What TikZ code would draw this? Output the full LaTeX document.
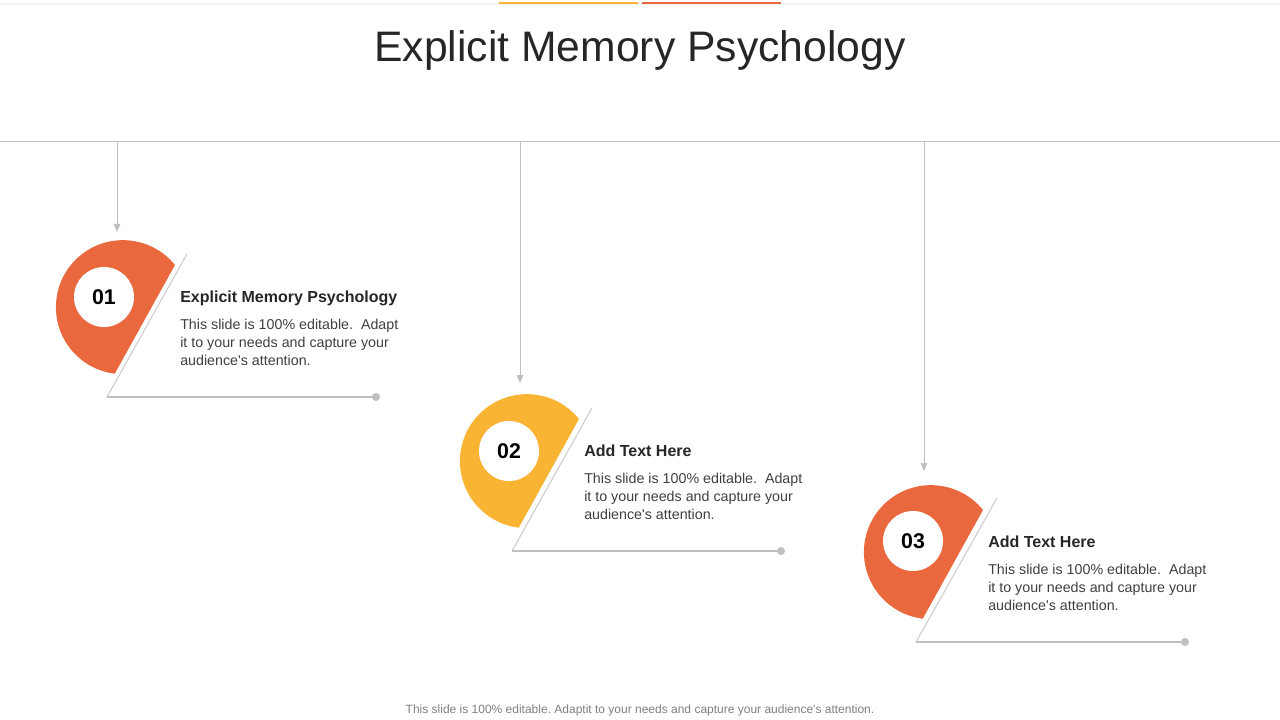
\documentclass[tikz,border=0pt]{standalone}
\usepackage{fontspec}
\setmainfont{Liberation Sans}
\usetikzlibrary{arrows.meta}

\definecolor{pinOrange}{RGB}{233,104,62}
\definecolor{pinYellow}{RGB}{249,180,52}
\definecolor{lineGray}{RGB}{191,191,191}
\definecolor{diagGray}{RGB}{205,205,205}
\definecolor{textDark}{RGB}{38,38,38}
\definecolor{textBody}{RGB}{64,64,64}

\begin{document}
\begin{tikzpicture}[x=0.75pt, y=0.75pt,
    head/.style={anchor=base west, inner sep=0pt, text=textDark, font=\fontsize{12}{14}\selectfont\bfseries},
    body/.style={anchor=north west, inner sep=0pt, align=left, text=textBody, font=\fontsize{10.7}{13.5}\selectfont},
    num/.style={circle, fill=white, inner sep=0pt, minimum size=45pt, text=black, font=\fontsize{16}{18}\selectfont\bfseries},
    drop/.style={draw=lineGray, line width=0.6pt, -{Triangle[length=6pt, width=5pt]}},
    base/.style={draw=lineGray, line width=0.8pt},
    diag/.style={draw=diagGray, line width=0.8pt}]

    % Rozmer snimku
    \useasboundingbox[fill=white] (0,0) rectangle (1280,-720);

    % Horni pruh
    \draw[line width=1.5pt, gray!10] (0,-4) -- (1280,-4);
    \draw[line width=1.5pt, pinYellow] (499,-3) -- (638,-3);
    \draw[line width=1.5pt, pinOrange] (642,-3) -- (781,-3);

    % Nadpis
    \node[text=textDark, font=\fontsize{32}{38}\selectfont] (title) at (640,-50) {Explicit Memory Psychology};

    % Vodorovna cara
    \draw[lineGray, line width=0.6pt] (0,-141) -- (1280,-141);

    % Sipky dolu
    \coordinate (top1) at (117,-141);
    \coordinate (tip1) at (117,-232);
    \coordinate (top2) at (520,-141);
    \coordinate (tip2) at (520,-383);
    \coordinate (top3) at (924,-141);
    \coordinate (tip3) at (924,-471);
    \draw[drop] (top1) -- (tip1);
    \draw[drop] (top2) -- (tip2);
    \draw[drop] (top3) -- (tip3);

    % Polozka 01
    \fill[pinOrange] (175,-265) arc[start angle=39, end angle=263, radius=67] -- cycle;
    \coordinate (diag1) at (187,-254);
    \coordinate (base1) at (107,-397);
    \coordinate (end1) at (376,-397);
    \draw[diag] (diag1) -- (base1);
    \draw[base] (base1) -- (end1);
    \fill[lineGray] (end1) circle (4);
    \node[num] (num1) at (104,-297) {01};
    \node[head] (head1) at (180,-302) {Explicit Memory Psychology};
    \node[body] (body1) at (180,-319) {This slide is 100\% editable.\ \ Adapt\\it to your needs and capture your\\audience\textquotesingle s attention.};

    % Polozka 02
    \fill[pinYellow] (579,-419) arc[start angle=39, end angle=263, radius=67] -- cycle;
    \coordinate (diag2) at (592,-408);
    \coordinate (base2) at (512,-551);
    \coordinate (end2) at (781,-551);
    \draw[diag] (diag2) -- (base2);
    \draw[base] (base2) -- (end2);
    \fill[lineGray] (end2) circle (4);
    \node[num] (num2) at (509,-451) {02};
    \node[head] (head2) at (584,-456) {Add Text Here};
    \node[body] (body2) at (584,-473) {This slide is 100\% editable.\ \ Adapt\\it to your needs and capture your\\audience\textquotesingle s attention.};

    % Polozka 03
    \fill[pinOrange] (983,-510) arc[start angle=39, end angle=263, radius=67] -- cycle;
    \coordinate (diag3) at (997,-498);
    \coordinate (base3) at (916,-642);
    \coordinate (end3) at (1185,-642);
    \draw[diag] (diag3) -- (base3);
    \draw[base] (base3) -- (end3);
    \fill[lineGray] (end3) circle (4);
    \node[num] (num3) at (913,-541) {03};
    \node[head] (head3) at (988,-547) {Add Text Here};
    \node[body] (body3) at (988,-564) {This slide is 100\% editable.\ \ Adapt\\it to your needs and capture your\\audience\textquotesingle s attention.};

    % Pata
    \node[text=gray, font=\fontsize{9}{11}\selectfont\frenchspacing] (foot) at (640,-710) {This slide is 100\% editable. Adaptit to your needs and capture your audience\textquotesingle s attention.};

\end{tikzpicture}
\end{document}
